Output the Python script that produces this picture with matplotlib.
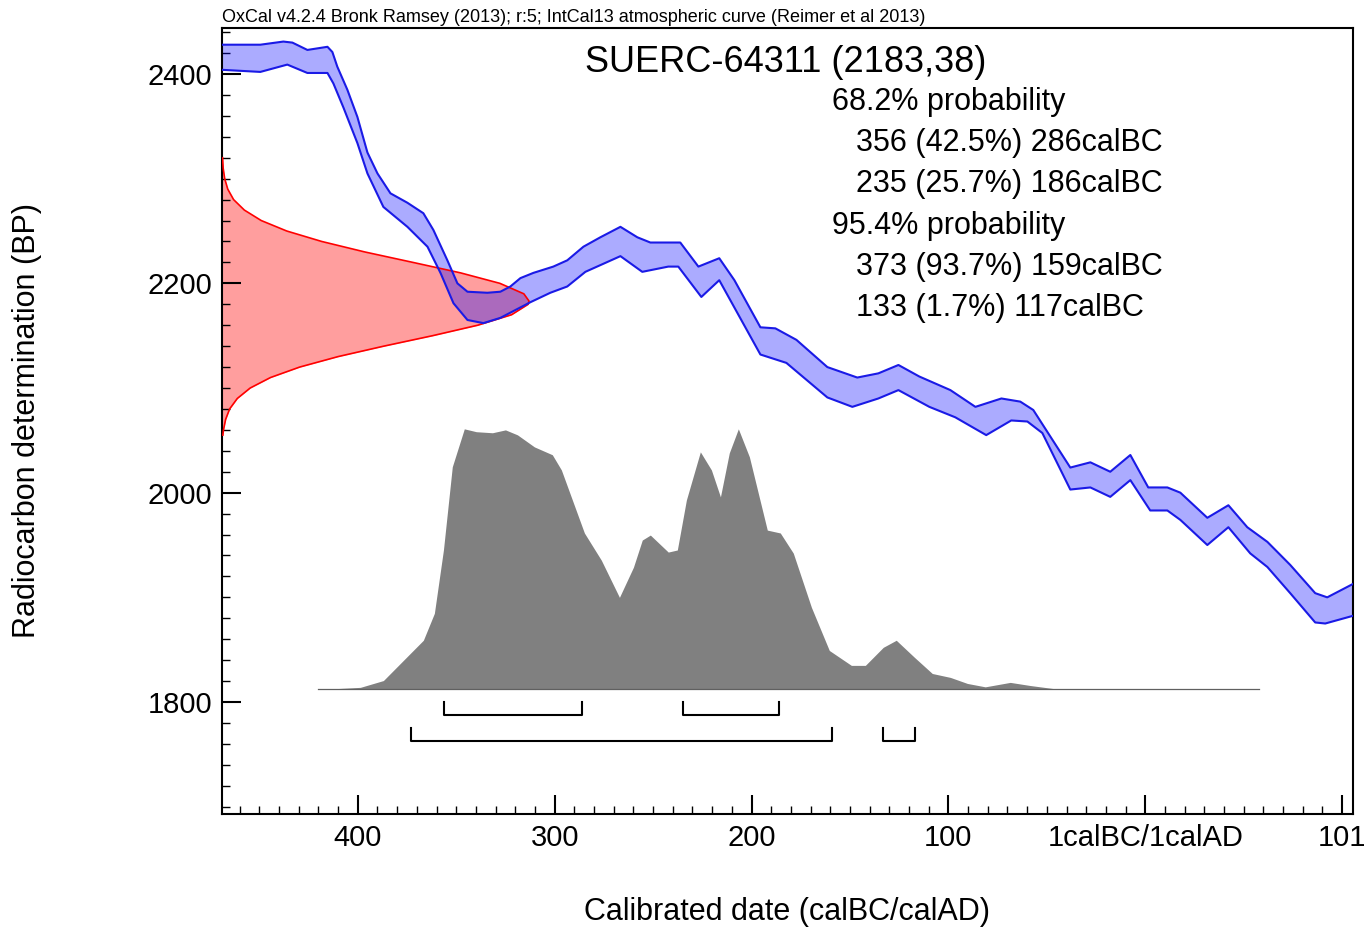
import numpy as np
import matplotlib
matplotlib.use("Agg")
import matplotlib.pyplot as plt
from matplotlib.ticker import MultipleLocator

plt.rcParams['font.family'] = ['Liberation Sans', 'DejaVu Sans']

# calibration curve (IntCal13), year: negative = calBC
curve_hi_year = [-468.8, -459.6, -449.5, -437.8, -433.2, -425.6, -415.4, -412.9, -410.4, -405.3,
                 -400.2, -395.1, -390.0, -383.4, -374.8, -366.7, -361.6, -354.5, -349.4, -344.3,
                 -334.2, -327.6, -322.5, -317.4, -310.8, -300.7, -293.6, -285.4, -276.8, -266.6,
                 -258.0, -251.4, -239.7, -236.2, -227.0, -216.4, -208.7, -195.5, -187.9, -177.2,
                 -161.5, -146.3, -135.6, -125.4, -114.8, -99.0, -86.3, -73.1, -63.5, -56.9,
                 -38.1, -27.9, -17.8, -7.6, 1.5, 11.2, 17.8, 31.5, 42.2, 51.8,
                 62.0, 73.6, 86.3, 92.4, 106.7]
curve_hi_bp = [2428, 2428, 2428, 2431, 2430, 2423, 2426, 2421, 2407, 2385,
               2359, 2325, 2305, 2286, 2277, 2267, 2251, 2222, 2200, 2192,
               2191, 2192, 2197, 2205, 2210, 2216, 2222, 2235, 2244, 2254,
               2244, 2239, 2239, 2239, 2216, 2224, 2203, 2158, 2157, 2146,
               2120, 2110, 2114, 2122, 2111, 2098, 2082, 2090, 2087, 2079,
               2024, 2029, 2020, 2036, 2005, 2005, 2000, 1976, 1988, 1967,
               1953, 1931, 1904, 1900, 1914]
curve_lo_year = [-468.8, -449.5, -435.8, -425.6, -415.4, -412.4, -407.3, -400.2, -395.1, -387.0,
                 -374.8, -364.6, -358.0, -351.4, -344.3, -336.2, -327.6, -317.4, -312.3, -302.2,
                 -293.6, -284.4, -266.6, -255.5, -242.3, -237.2, -225.5, -216.4, -195.5, -182.3,
                 -161.5, -148.8, -135.6, -125.4, -109.7, -96.5, -80.8, -68.1, -59.9, -52.3,
                 -38.1, -27.9, -17.8, -7.6, 2.5, 11.2, 17.8, 31.5, 42.2, 53.3,
                 62.0, 73.6, 86.3, 91.4, 106.7]
curve_lo_bp = [2404, 2402, 2409, 2401, 2401, 2391, 2368, 2334, 2305, 2273,
               2254, 2235, 2210, 2181, 2165, 2162, 2167, 2177, 2182, 2191,
               2197, 2211, 2226, 2211, 2216, 2216, 2187, 2203, 2132, 2124,
               2091, 2082, 2090, 2098, 2082, 2072, 2055, 2069, 2068, 2057,
               2003, 2005, 1996, 2012, 1983, 1983, 1974, 1950, 1967, 1942,
               1929, 1904, 1876, 1875, 1883]

# radiocarbon measurement SUERC-64311 (2183, 38), relative probability
meas_bp = [2055, 2060, 2070, 2080, 2090, 2100, 2110, 2120, 2130, 2140, 2150, 2160, 2170, 2180,
           2183, 2190, 2200, 2210, 2220, 2230, 2240, 2250, 2260, 2270, 2280, 2290, 2300, 2310, 2320]
meas_prob = [0.003, 0.005, 0.012, 0.025, 0.050, 0.092, 0.158, 0.253, 0.378, 0.527, 0.686, 0.833,
             0.943, 0.997, 1.0, 0.983, 0.905, 0.777, 0.622, 0.465, 0.325, 0.211, 0.128, 0.073,
             0.038, 0.019, 0.009, 0.004, 0.002]

# calibrated date distribution
cal_year = [-419.0, -398.7, -387.0, -375.8, -366.7, -361.1, -356.5, -352.0, -345.9, -339.8,
            -331.6, -325.0, -318.9, -310.3, -301.2, -296.6, -284.9, -276.3, -267.1, -260.0,
            -255.5, -251.4, -242.3, -237.7, -233.1, -226.0, -220.4, -215.8, -211.3, -206.7,
            -201.1, -192.0, -185.4, -178.8, -169.6, -160.5, -149.3, -142.2, -133.1, -126.5,
            -117.3, -108.2, -99.0, -90.4, -81.3, -68.6, -58.4, -43.2]
cal_prob = [0.0, 0.008, 0.034, 0.119, 0.188, 0.291, 0.533, 0.851, 0.996, 0.985,
            0.981, 0.992, 0.973, 0.927, 0.897, 0.839, 0.598, 0.494, 0.352, 0.467,
            0.571, 0.590, 0.525, 0.533, 0.724, 0.908, 0.839, 0.736, 0.904, 0.996,
            0.889, 0.609, 0.598, 0.521, 0.314, 0.149, 0.092, 0.092, 0.161, 0.188,
            0.123, 0.061, 0.046, 0.023, 0.010, 0.027, 0.015, 0.0]
cal_span = [-420, 58]

# highest probability ranges (calBC)
ranges_68 = [(356, 286), (235, 186)]
ranges_95 = [(373, 159), (133, 117)]

title = "SUERC-64311 (2183,38)"
summary = [("68.2% probability", False),
           ("356 (42.5%) 286calBC", True),
           ("235 (25.7%) 186calBC", True),
           ("95.4% probability", False),
           ("373 (93.7%) 159calBC", True),
           ("133 (1.7%) 117calBC", True)]
header = "OxCal v4.2.4 Bronk Ramsey (2013); r:5; IntCal13 atmospheric curve (Reimer et al 2013)"

xticks = [-400, -300, -200, -100, 0, 100]
xticklabels = ['400', '300', '200', '100', '1calBC/1calAD', '101']
yticks = [1800, 2000, 2200, 2400]

fig = plt.figure(figsize=(13.7, 9.32), dpi=100)
ax = fig.add_axes([0.162, 0.1266, 0.8256, 0.8434])
xmin, xmax = -469, 105.5
ax.set_xlim(xmin, xmax)
ax.set_ylim(1693, 2444)

# measurement on the y axis
meas_x = xmin + np.array(meas_prob) * 156
ax.fill_betweenx(meas_bp, xmin, meas_x, color='red', alpha=0.38, lw=0, zorder=1)
ax.plot(meas_x, meas_bp, color='red', lw=1.2, zorder=3)

# calibration curve band
poly_x = np.concatenate([curve_hi_year, curve_lo_year[::-1]])
poly_y = np.concatenate([curve_hi_bp, curve_lo_bp[::-1]])
ax.fill(poly_x, poly_y, color='blue', alpha=0.33, lw=0, zorder=2)
ax.plot(curve_hi_year, curve_hi_bp, color='#1a1ae6', lw=1.5, zorder=3)
ax.plot(curve_lo_year, curve_lo_bp, color='#1a1ae6', lw=1.5, zorder=3)

# calibrated distribution
base = 1812
ax.fill_between(cal_year, base, base + np.array(cal_prob) * 250, color='#808080', lw=0, zorder=2)
ax.plot(cal_span, [base, base], color='#606060', lw=0.9, zorder=2)


def bracket(a, b, y, h=12):
    ax.plot([-a, -a, -b, -b], [y + h, y, y, y + h], color='black', lw=1.5, zorder=3)


for a, b in ranges_68:
    bracket(a, b, 1788)
for a, b in ranges_95:
    bracket(a, b, 1763)

ax.set_xticks(xticks)
ax.set_xticklabels(xticklabels)
ax.xaxis.set_minor_locator(MultipleLocator(10))
ax.set_yticks(yticks)
ax.yaxis.set_minor_locator(MultipleLocator(20))
ax.tick_params(which='major', direction='in', length=14, width=1.5, labelsize=21)
ax.tick_params(which='minor', direction='in', length=6, width=1.0)
ax.tick_params(axis='x', which='major', pad=7)
ax.tick_params(axis='y', which='major', pad=7)
for s in ax.spines.values():
    s.set_linewidth(1.5)

ax.set_xlabel("Calibrated date (calBC/calAD)", fontsize=22)
ax.xaxis.set_label_coords(0.5, -0.1247)
ax.xaxis.label.set_va('center')
ax.set_ylabel("Radiocarbon determination (BP)", fontsize=22)
ax.yaxis.set_label_coords(-0.1724, 0.5)
ax.yaxis.label.set_va('center')

fig.text(222 / 1370, 1 - 18 / 932, header, fontsize=13, va='center', ha='left')
fig.text(585 / 1370, 1 - 63 / 932, title, fontsize=26, va='center', ha='left')
y0 = 102
for txt, indent in summary:
    fig.text((856 if indent else 832) / 1370, 1 - y0 / 932, txt, fontsize=22, va='center', ha='left')
    y0 += 41.2

fig.savefig("out.png", dpi=100)
